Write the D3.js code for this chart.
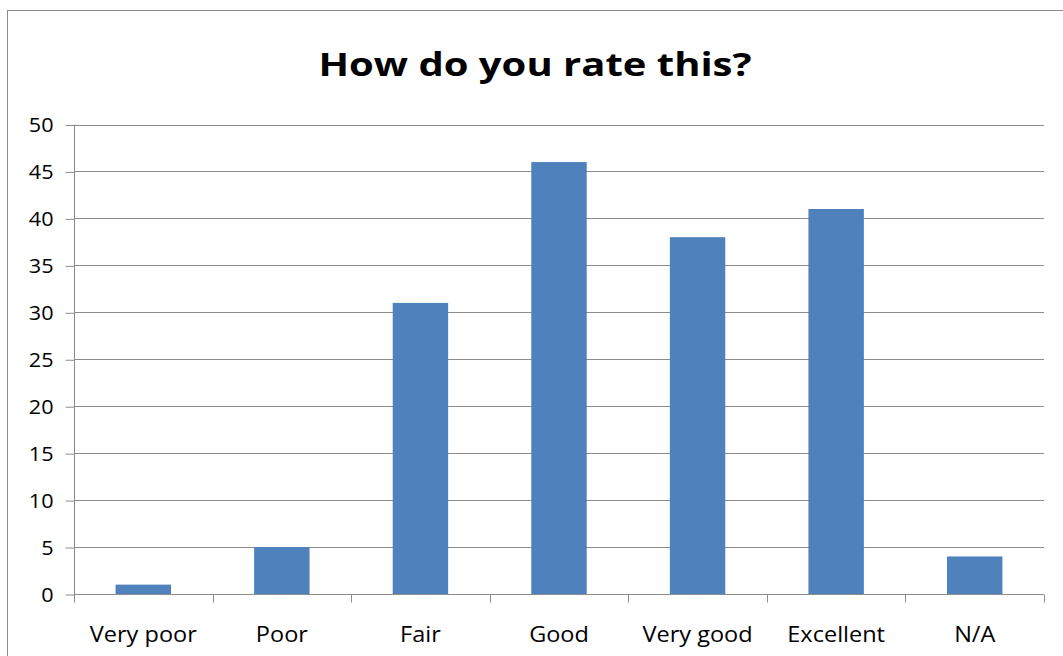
<!DOCTYPE html>
<html><head><meta charset="utf-8">
<script src="https://cdn.jsdelivr.net/npm/d3@7"></script>
<style>body{margin:0;background:#fff}svg{display:block}</style>
</head><body>
<script>
const categories = ["Very poor","Poor","Fair","Good","Very good","Excellent","N/A"];
const values = [1,5,31,46,38,41,4];
const yTicks = [0,5,10,15,20,25,30,35,40,45,50];
const title = "How do you rate this?";

const W = 1063, H = 656;
const svg = d3.select("body").append("svg").attr("width", W).attr("height", H);
const font = "'Open Sans', sans-serif";

svg.append("rect").attr("x", 7.5).attr("y", 10.5).attr("width", W + 10).attr("height", H + 10)
  .attr("fill", "#fff").attr("stroke", "#8c8c8c").attr("stroke-width", 1);

const m = {left: 74, right: 1044, top: 124.5, bottom: 594};
const x = d3.scaleBand().domain(categories).range([m.left, m.right]).paddingInner(0.6).paddingOuter(0.3);
const y = d3.scaleLinear().domain([0, 50]).range([m.bottom, m.top]);

// gridlines
svg.append("g").selectAll("line").data(yTicks.filter(d => d > 0)).join("line")
  .attr("x1", m.left).attr("x2", m.right)
  .attr("y1", d => Math.round(y(d)) + 0.5).attr("y2", d => Math.round(y(d)) + 0.5)
  .attr("stroke", "#8c8c8c").attr("stroke-width", 1);

// y axis
const yAxis = d3.axisLeft(y).tickValues(yTicks).tickSize(9).tickPadding(12).tickFormat(d3.format("d"));
const gy = svg.append("g").attr("transform", `translate(${m.left + 0.5},0)`).call(yAxis);
gy.select(".domain").attr("stroke", "#8c8c8c").attr("d", `M0,${m.top}V${m.bottom}`);
gy.selectAll(".tick line").attr("stroke", "#8c8c8c").attr("transform", "translate(0,0.5)");
gy.selectAll(".tick text").attr("font-family", font).attr("font-size", 20).attr("fill", "#000")
  .attr("dy", "0.36em").attr("transform", function() {
    const tx = +d3.select(this).attr("x");
    return `translate(${tx},0) scale(1.08,1) translate(${-tx},0)`;
  });

// bars
svg.append("g").selectAll("rect").data(values).join("rect")
  .attr("x", (d, i) => x(categories[i]))
  .attr("width", x.bandwidth())
  .attr("y", d => y(d))
  .attr("height", d => y(0) - y(d))
  .attr("fill", "#4F81BD");

// x axis
const step = (m.right - m.left) / categories.length;
const gx = svg.append("g").attr("transform", `translate(0,${Math.round(y(0)) + 0.5})`);
gx.append("line").attr("x1", m.left).attr("x2", m.right).attr("stroke", "#8c8c8c");
gx.selectAll("line.t").data(d3.range(categories.length + 1)).join("line").attr("class", "t")
  .attr("x1", i => Math.round(m.left + i * step) + 0.5).attr("x2", i => Math.round(m.left + i * step) + 0.5)
  .attr("y1", 0).attr("y2", 8).attr("stroke", "#8c8c8c");
gx.selectAll("text").data(categories).join("text")
  .attr("transform", d => `translate(${x(d) + x.bandwidth() / 2},47) scale(1.12,1)`)
  .attr("text-anchor", "middle").attr("font-family", font).attr("font-size", 21).attr("fill", "#000")
  .text(d => d);

// title
svg.append("text").attr("transform", "translate(535,76) scale(1.25,1)").attr("text-anchor", "middle")
  .attr("font-family", font).attr("font-weight", "bold").attr("font-size", 32).attr("fill", "#000")
  .text(title);
</script>
</body></html>
